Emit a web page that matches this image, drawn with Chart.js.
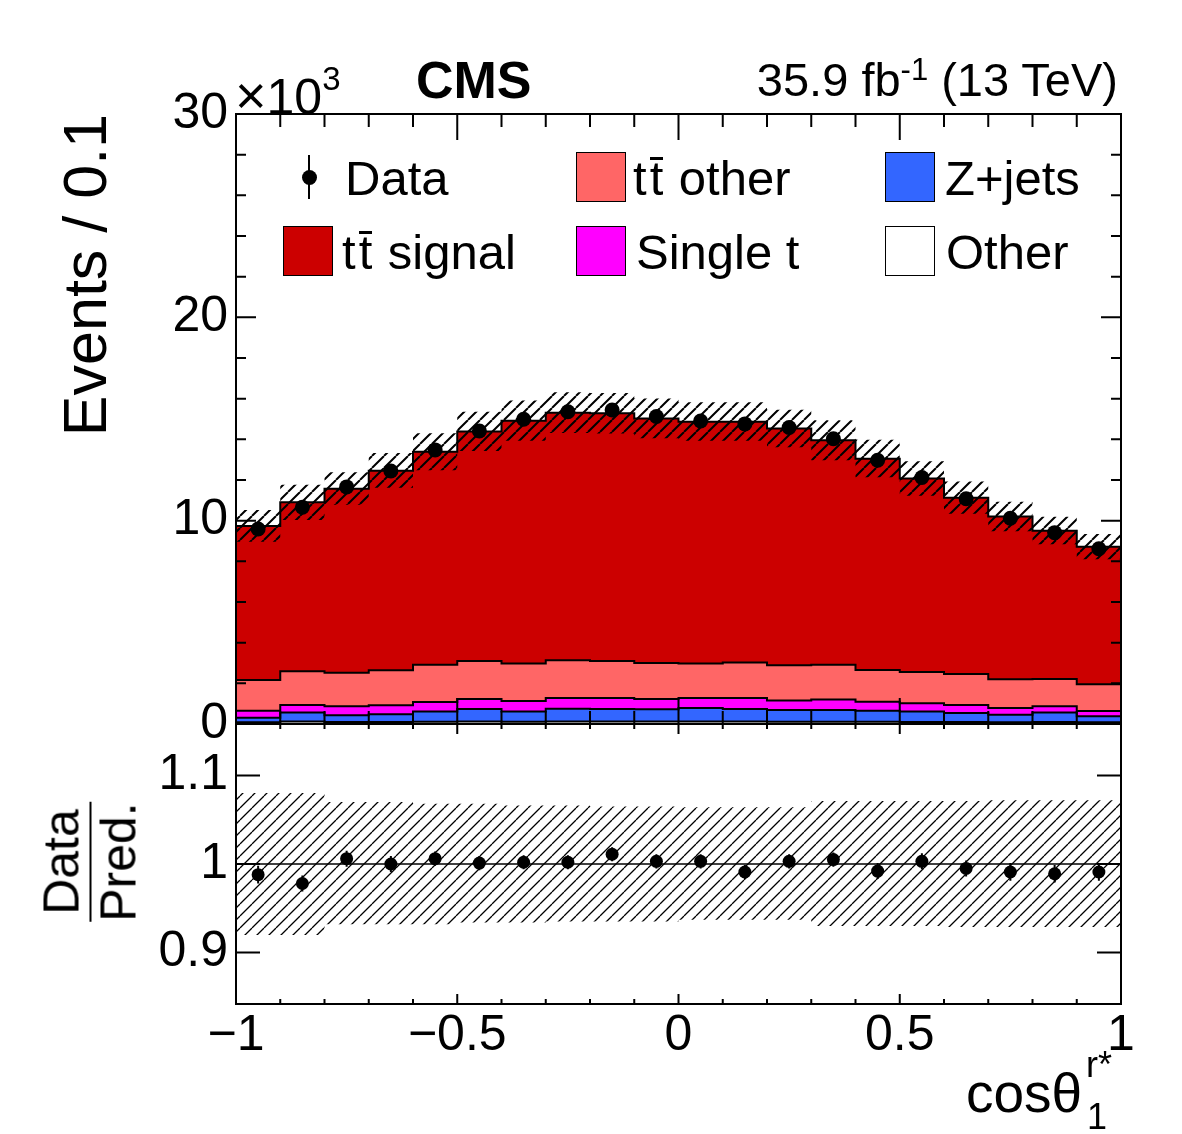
<!DOCTYPE html>
<html>
<head>
<meta charset="utf-8">
<script src="https://cdn.jsdelivr.net/npm/chart.js@4.4.0/dist/chart.umd.min.js"></script>
<style>
html,body{margin:0;padding:0;background:#fff;}
body{width:1182px;height:1134px;position:relative;overflow:hidden;font-family:"Liberation Sans",Arial,Helvetica,sans-serif;color:#000;}
#c1{position:absolute;left:0;top:0;}
#c2{position:absolute;left:0;top:700px;}
.t{position:absolute;white-space:nowrap;line-height:1;}
.box{position:absolute;width:50px;height:50px;border:1.5px solid #000;box-sizing:border-box;}
.ob{position:relative;display:inline-block;margin:0 2px 0 3px;}
.ob::before{content:'';position:absolute;left:0;right:0;top:3px;height:2.5px;background:#000;}
</style>
</head>
<body>
<canvas id="c1" width="1182" height="760" style="width:1182px;height:760px"></canvas>
<canvas id="c2" width="1182" height="434" style="width:1182px;height:434px"></canvas>

<div class="t" style="left:416px;top:54px;font-size:52px;font-weight:bold;">CMS</div>
<div class="t" style="right:64px;top:56px;font-size:47px;">35.9 fb<span style="font-size:31px;position:relative;top:-16px;">-1</span> (13 TeV)</div>
<div class="t" style="left:235px;top:68px;font-size:50px;"><span style="font-size:54px;">×</span>10<span style="font-size:33px;position:relative;top:-24px;">3</span></div>

<div id="legend"></div>

<div class="t" style="left:90px;top:862px;transform:translate(-50%,-50%) rotate(-90deg);font-size:50px;text-align:center;">
  <div style="border-bottom:2.5px solid #000;padding:0 2px 3px 2px;">Data</div>
  <div style="padding-top:2px;">Pred.</div>
</div>

<div class="t" style="left:966px;top:1066px;font-size:55px;">cosθ</div>
<div class="t" style="left:1087px;top:1099px;font-size:36px;">1</div>
<div class="t" style="left:1086px;top:1047px;font-size:36px;">r*</div>

<script>
// ---------------- DATA (values in units of 10^3 events) ----------------
const binEdges   = [-1,-0.9,-0.8,-0.7,-0.6,-0.5,-0.4,-0.3,-0.2,-0.1,0,0.1,0.2,0.3,0.4,0.5,0.6,0.7,0.8,0.9,1];
const binCenters = [-0.95,-0.85,-0.75,-0.65,-0.55,-0.45,-0.35,-0.25,-0.15,-0.05,0.05,0.15,0.25,0.35,0.45,0.55,0.65,0.75,0.85,0.95];

const otherBkg  = [0.08,0.12,0.10,0.10,0.11,0.12,0.11,0.12,0.12,0.12,0.12,0.12,0.11,0.11,0.11,0.10,0.10,0.09,0.10,0.08];
const zJets     = [0.23,0.44,0.33,0.38,0.50,0.62,0.50,0.63,0.62,0.60,0.67,0.62,0.58,0.58,0.54,0.52,0.44,0.37,0.46,0.30];
const singleTop = [0.34,0.37,0.44,0.44,0.47,0.49,0.52,0.53,0.54,0.51,0.49,0.54,0.46,0.51,0.45,0.40,0.39,0.33,0.31,0.26];
const ttOther   = [1.51,1.66,1.65,1.72,1.84,1.87,1.84,1.85,1.82,1.77,1.69,1.74,1.74,1.72,1.56,1.54,1.53,1.41,1.34,1.31];
const ttSignal  = [7.58,8.31,9.05,9.82,10.47,11.28,11.95,12.18,12.18,12.03,11.90,11.85,11.64,11.03,10.39,9.51,8.67,8.00,7.30,6.77];

const dataVals  = [9.59,10.66,11.66,12.44,13.48,14.41,14.99,15.36,15.44,15.12,14.90,14.76,14.58,14.03,12.97,12.12,11.08,10.12,9.41,8.62];
const dataErr   = [0.10,0.10,0.11,0.11,0.12,0.12,0.12,0.12,0.12,0.12,0.12,0.12,0.12,0.12,0.11,0.11,0.11,0.10,0.10,0.09];

const ratioVals = [0.988,0.978,1.006,1.000,1.006,1.001,1.002,1.002,1.011,1.003,1.003,0.991,1.003,1.005,0.992,1.003,0.995,0.991,0.989,0.991];
const ratioErr  = [0.010,0.009,0.009,0.009,0.008,0.008,0.008,0.008,0.008,0.008,0.008,0.008,0.008,0.008,0.009,0.009,0.009,0.010,0.010,0.010];

const bandUp    = [1.080,1.080,1.070,1.070,1.068,1.068,1.066,1.066,1.065,1.065,1.064,1.064,1.064,1.071,1.071,1.071,1.071,1.072,1.072,1.072];
const bandDown  = [0.920,0.920,0.932,0.932,0.932,0.934,0.934,0.935,0.935,0.935,0.937,0.937,0.937,0.930,0.930,0.930,0.929,0.929,0.929,0.929];

const topYTicks   = [0,10,20,30];
const ratioYTicks = [0.9,1,1.1];
const xTickLabels = [-1,-0.5,0,0.5,1];

const seriesNames  = ['Other','Z+jets','Single t','tt̄ other','tt̄ signal'];
const seriesColors = ['#ffffff','#3366ff','#ff00ff','#ff6666','#cc0000'];

// ---------------- helpers ----------------
const FONT = '"Liberation Sans", Arial, Helvetica, sans-serif';
function steps(vals){ return binEdges.map((e,i)=>({x:e, y: vals[Math.min(i, vals.length-1)]})); }
function points(vals){ return binCenters.map((c,i)=>({x:c, y: vals[i]})); }
function hatch(spacing, lw){
  const c = document.createElement('canvas'); c.width = spacing; c.height = spacing;
  const g = c.getContext('2d'); g.strokeStyle = '#000'; g.lineWidth = lw; g.beginPath();
  for (const k of [-spacing, 0, spacing]) { g.moveTo(k, spacing); g.lineTo(k + spacing, 0); }
  g.stroke();
  return document.getElementById('c1').getContext('2d').createPattern(c, 'repeat');
}
function fmtX(v){ return v < 0 ? '\u2212' + Math.abs(v) : String(v); }
function fixY(s){ s.width = 236; s.paddingTop = 0; s.paddingBottom = 0; }
function fixX(s){ s.height = 130; s.paddingLeft = 0; s.paddingRight = 0; }

const comps = [otherBkg, zJets, singleTop, ttOther, ttSignal];
let acc = binCenters.map(()=>0);
const cum = comps.map(c => (acc = acc.map((a,i)=>a + c[i])));
const total = cum[cum.length-1];

// ---------------- plugins ----------------
const errorBars = {
  id: 'errorBars',
  afterDatasetsDraw(chart){
    const {ctx, scales:{x, y}} = chart;
    chart.data.datasets.forEach(ds => {
      if (!ds.errors) return;
      ctx.save(); ctx.strokeStyle = '#000'; ctx.lineWidth = 2; ctx.beginPath();
      ds.data.forEach((p,j) => {
        const px = x.getPixelForValue(p.x);
        ctx.moveTo(px, y.getPixelForValue(p.y - ds.errors[j]));
        ctx.lineTo(px, y.getPixelForValue(p.y + ds.errors[j]));
      });
      ctx.stroke(); ctx.restore();
    });
  }
};
const frame = {
  id: 'frame',
  afterDatasetsDraw(chart, args, o){
    const {ctx, chartArea:a, scales:{x, y}} = chart;
    ctx.save(); ctx.strokeStyle = '#000'; ctx.lineWidth = 2;
    ctx.strokeRect(a.left, a.top, a.right - a.left, a.bottom - a.top);
    ctx.beginPath();
    for (let k = 0; k <= 20; k++) {
      const v = -1 + k * 0.1, major = (k % 5 === 0);
      const L = major ? o.xMajor : o.xMinor, px = x.getPixelForValue(v);
      ctx.moveTo(px, a.bottom); ctx.lineTo(px, a.bottom - L);
      ctx.moveTo(px, a.top); ctx.lineTo(px, a.top + L);
    }
    for (const t of o.yTicks) {
      const L = t.major ? o.yMajor : o.yMinor, py = y.getPixelForValue(t.v);
      ctx.moveTo(a.left, py); ctx.lineTo(a.left + L, py);
      ctx.moveTo(a.right, py); ctx.lineTo(a.right - L, py);
    }
    ctx.stroke(); ctx.restore();
  }
};

const topYMarks = [];
for (let v = 0; v <= 30; v += 2) topYMarks.push({v, major: v % 10 === 0});
const ratioYMarks = ratioYTicks.map(v => ({v, major: true}));
const noGrid = { display: false, drawTicks: false, tickLength: 0 };

// ---------------- top chart ----------------
const stackSets = comps.map((c, i) => ({
  label: seriesNames[i],
  data: steps(cum[i]),
  stepped: 'before',
  borderColor: '#000',
  borderWidth: 2,
  backgroundColor: seriesColors[i],
  fill: i === 0 ? 'origin' : i - 1,
  pointRadius: 0,
  order: 5 - i
}));
const nS = stackSets.length;
new Chart(document.getElementById('c1'), {
  type: 'line',
  data: { datasets: [
    ...stackSets,
    { label: 'unc-low', data: steps(total.map((t,i)=>t*bandDown[i])), stepped: 'before', borderWidth: 0, pointRadius: 0, fill: false, order: 0 },
    { label: 'unc-high', data: steps(total.map((t,i)=>t*bandUp[i])), stepped: 'before', borderWidth: 0, pointRadius: 0, fill: nS, backgroundColor: hatch(12, 2), order: 0 },
    { label: 'Data', data: points(dataVals), errors: dataErr, showLine: false, pointRadius: 7.5, pointBackgroundColor: '#000', pointBorderWidth: 0, order: -1 }
  ]},
  options: {
    responsive: false, animation: false, events: [],
    layout: { padding: { left: 0, top: 114, right: 61, bottom: 36 } },
    plugins: { legend: { display: false }, tooltip: { enabled: false },
      filler: { drawTime: 'beforeDatasetsDraw' },
      frame: { xMajor: 26, xMinor: 13, yMajor: 20, yMinor: 10, yTicks: topYMarks } },
    scales: {
      x: { type: 'linear', min: -1, max: 1, display: false },
      y: { type: 'linear', min: 0, max: 30,
        afterFit: fixY,
        afterBuildTicks: s => { s.ticks = topYTicks.map(v => ({value: v})); },
        grid: noGrid, border: { display: false },
        ticks: { font: { family: FONT, size: 50 }, color: '#000', padding: 8, callback: v => String(v) },
        title: { display: true, text: 'Events / 0.1', align: 'end', color: '#000',
          font: { family: FONT, size: 61 }, padding: { top: 53, bottom: 0 } } }
    }
  },
  plugins: [frame, errorBars]
});

// ---------------- ratio chart ----------------
new Chart(document.getElementById('c2'), {
  type: 'line',
  data: { datasets: [
    { label: 'band-low', data: steps(bandDown), stepped: 'before', borderWidth: 0, pointRadius: 0, fill: false, order: 2 },
    { label: 'band-high', data: steps(bandUp), stepped: 'before', borderWidth: 0, pointRadius: 0, fill: 0, backgroundColor: hatch(12, 1.3), order: 2 },
    { label: 'unity', data: [{x: binEdges[0], y: 1}, {x: binEdges[binEdges.length-1], y: 1}], borderColor: '#000', borderWidth: 1.5, pointRadius: 0, fill: false, order: 1 },
    { label: 'Ratio', data: points(ratioVals), errors: ratioErr, showLine: false, pointRadius: 6.5, pointBackgroundColor: '#000', pointBorderWidth: 0, order: 0 }
  ]},
  options: {
    responsive: false, animation: false, events: [],
    layout: { padding: { left: 0, top: 24, right: 61, bottom: 0 } },
    plugins: { legend: { display: false }, tooltip: { enabled: false },
      filler: { drawTime: 'beforeDatasetsDraw' },
      frame: { xMajor: 10, xMinor: 5, yMajor: 24, yMinor: 24, yTicks: ratioYMarks } },
    scales: {
      x: { type: 'linear', min: -1, max: 1,
        afterFit: fixX,
        afterBuildTicks: s => { s.ticks = xTickLabels.map(v => ({value: v})); },
        grid: noGrid, border: { display: false },
        ticks: { font: { family: FONT, size: 50 }, color: '#000', padding: 2, maxRotation: 0, autoSkip: false, callback: v => fmtX(v) } },
      y: { type: 'linear', min: 0.842, max: 1.158,
        afterFit: fixY,
        afterBuildTicks: s => { s.ticks = ratioYTicks.map(v => ({value: v})); },
        grid: noGrid, border: { display: false },
        ticks: { font: { family: FONT, size: 50 }, color: '#000', padding: 8, callback: v => String(+v.toFixed(2)) } }
    }
  },
  plugins: [frame, errorBars]
});

// ---------------- legend (HTML, inside plot frame) ----------------
const legendItems = [
  { name: 'Data', kind: 'marker', box: [309, 177], text: [345, 154] },
  { name: seriesNames[3], color: seriesColors[3], box: [576, 152], text: [633, 154] },
  { name: seriesNames[1], color: seriesColors[1], box: [885, 152], text: [945, 154] },
  { name: seriesNames[4], color: seriesColors[4], box: [283, 226], text: [342, 228] },
  { name: seriesNames[2], color: seriesColors[2], box: [576, 226], text: [636, 228] },
  { name: seriesNames[0], color: seriesColors[0], box: [885, 226], text: [946, 228] }
];
const lg = document.getElementById('legend');
legendItems.forEach(it => {
  if (it.kind === 'marker') {
    const bar = document.createElement('div');
    bar.style.cssText = `position:absolute;left:${it.box[0]-1}px;top:${it.box[1]-22}px;width:2px;height:44px;background:#000;`;
    const dot = document.createElement('div');
    dot.style.cssText = `position:absolute;left:${it.box[0]-7.5}px;top:${it.box[1]-7.5}px;width:15px;height:15px;border-radius:50%;background:#000;`;
    lg.appendChild(bar); lg.appendChild(dot);
  } else {
    const b = document.createElement('div');
    b.className = 'box';
    b.style.cssText = `left:${it.box[0]}px;top:${it.box[1]}px;background:${it.color};`;
    lg.appendChild(b);
  }
  const t = document.createElement('div');
  t.className = 't';
  t.style.cssText = `left:${it.text[0]}px;top:${it.text[1]}px;font-size:49px;`;
  t.innerHTML = it.name.replace('tt̄', 't<span class="ob">t</span>');
  lg.appendChild(t);
});
</script>
</body>
</html>
